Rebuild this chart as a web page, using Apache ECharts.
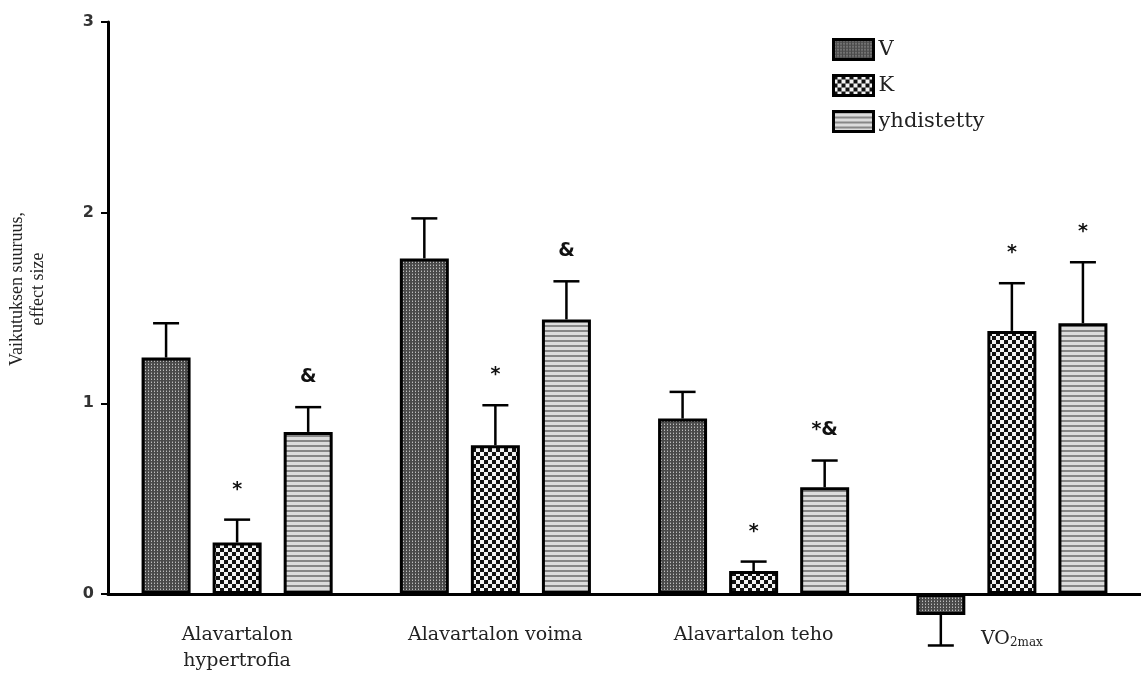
<!DOCTYPE html>
<html>
<head>
<meta charset="utf-8">
<script src="https://cdn.jsdelivr.net/npm/echarts@6/dist/echarts.min.js"></script>
<style>
  html, body { margin: 0; padding: 0; background: #fff; }
  #chart { width: 1141px; height: 674px; }
</style>
</head>
<body>
<div id="chart"></div>
<script>
// Effect sizes per outcome and training group
const categories = ['Alavartalon\nhypertrofia', 'Alavartalon voima', 'Alavartalon teho', 'VO2max'];
const seriesNames = ['V', 'K', 'yhdistetty'];

const valuesV = [1.24, 1.76, 0.92, -0.11];
const valuesK = [0.27, 0.78, 0.12, 1.38];
const valuesY = [0.85, 1.44, 0.56, 1.42];

// One-sided error bars (length, drawn away from zero)
const errorsV = [0.18, 0.21, 0.14, 0.16];
const errorsK = [0.12, 0.21, 0.05, 0.25];
const errorsY = [0.13, 0.20, 0.14, 0.32];

// Significance markers above the error bars
const notesV = ['', '', '', ''];
const notesK = ['*', '*', '*', '*'];
const notesY = ['&', '&', '*&', '*'];

const yTicks = [0, 1, 2, 3];

const allValues = [valuesV, valuesK, valuesY];
const allErrors = [errorsV, errorsK, errorsY];
const allNotes = [notesV, notesK, notesY];

const BAR_W = 49;
const BAR_GAP = 0.45;

// Fill patterns for the bars
function makeTile(w, h, draw) {
  const c = document.createElement('canvas');
  c.width = w; c.height = h;
  draw(c.getContext('2d'));
  return { image: c, repeat: 'repeat' };
}
const patternV = makeTile(3, 3, g => {
  g.fillStyle = '#4a4a4a'; g.fillRect(0, 0, 3, 3);
  g.fillStyle = '#bdbdbd'; g.fillRect(1, 1, 1, 1);
  g.fillStyle = '#7a7a7a'; g.fillRect(1, 0, 1, 1);
});
const patternK = makeTile(8, 8, g => {
  g.fillStyle = '#f2f2f2'; g.fillRect(0, 0, 8, 8);
  g.fillStyle = '#111'; g.fillRect(0, 0, 4, 4); g.fillRect(4, 4, 4, 4);
});
const patternY = makeTile(2, 5, g => {
  g.fillStyle = '#dcdcdc'; g.fillRect(0, 0, 2, 5);
  g.fillStyle = '#878787'; g.fillRect(0, 0, 2, 2);
});
const patterns = [patternV, patternK, patternY];

const errorData = [];
allValues.forEach((vals, s) => {
  vals.forEach((v, i) => {
    const sign = v < 0 ? -1 : 1;
    errorData.push([i, s, v, v + sign * allErrors[s][i]]);
  });
});

const serif = 'DejaVu Serif';

const chart = echarts.init(document.getElementById('chart'), null, { renderer: 'canvas' });

const barSeries = seriesNames.map((name, s) => ({
  name: name,
  type: 'bar',
  data: allValues[s],
  barWidth: BAR_W,
  barGap: (BAR_GAP * 100) + '%',
  clip: false,
  itemStyle: { color: patterns[s], borderColor: '#000', borderWidth: 3 }
}));

chart.setOption({
  animation: false,
  backgroundColor: '#fff',
  grid: { left: 108, right: -7, top: 22, bottom: 78, containLabel: false },
  legend: {
    data: seriesNames,
    orient: 'vertical',
    left: 827,
    top: 33,
    itemWidth: 40,
    itemHeight: 20,
    itemGap: 13,
    icon: 'rect',
    itemStyle: { borderColor: '#000', borderWidth: 3 },
    textStyle: { fontFamily: serif, fontSize: 21, lineHeight: 20, color: '#222' }
  },
  xAxis: {
    type: 'category',
    data: categories,
    axisLine: { lineStyle: { color: '#000', width: 3 } },
    axisTick: { show: false },
    axisLabel: {
      interval: 0,
      margin: 28,
      fontFamily: serif,
      fontSize: 19,
      lineHeight: 26,
      color: '#222',
      formatter: v => v === 'VO2max' ? '{vo|VO}{sub|2max}' : v,
      rich: {
        vo: { fontFamily: serif, fontSize: 19, color: '#222', padding: [9, 0, 0, 0] },
        sub: { fontFamily: serif, fontSize: 12, color: '#222', padding: [16, 0, 0, 0] }
      }
    }
  },
  yAxis: {
    type: 'value',
    min: 0,
    max: 3,
    interval: 1,
    splitLine: { show: false },
    axisLine: { show: true, lineStyle: { color: '#000', width: 3 } },
    axisTick: { show: true, length: 7, lineStyle: { color: '#000', width: 2 } },
    axisLabel: {
      margin: 14,
      fontFamily: 'DejaVu Sans',
      fontWeight: 'bold',
      fontSize: 16,
      color: '#333',
      formatter: v => yTicks.includes(v) ? String(v) : ''
    }
  },
  graphic: [{
    type: 'text',
    left: 7,
    top: 212,
    rotation: Math.PI / 2,
    style: {
      text: 'Vaikutuksen suuruus,\neffect size',
      fontFamily: 'Liberation Serif',
      fontSize: 18,
      lineHeight: 21,
      fill: '#222',
      textAlign: 'center'
    }
  }],
  series: barSeries.concat([{
    type: 'custom',
    name: 'errors',
    clip: false,
    z: 5,
    encode: { x: 0, y: 2 },
    data: errorData,
    renderItem: function (params, api) {
      const cat = api.value(0);
      const s = api.value(1);
      const base = api.coord([cat, api.value(2)]);
      const end = api.coord([cat, api.value(3)]);
      const x = base[0] + (s - 1) * BAR_W * (1 + BAR_GAP);
      const lineStyle = { stroke: '#000', lineWidth: 2.5 };
      const children = [
        { type: 'line', shape: { x1: x, y1: base[1], x2: x, y2: end[1] }, style: lineStyle },
        { type: 'line', shape: { x1: x - 13, y1: end[1], x2: x + 13, y2: end[1] }, style: lineStyle }
      ];
      const note = allNotes[s][cat];
      if (note) {
        children.push({
          type: 'text',
          style: {
            text: note,
            x: x,
            y: end[1] - 30,
            textAlign: 'center',
            textVerticalAlign: 'middle',
            fontFamily: 'DejaVu Sans',
            fontWeight: 'bold',
            fontSize: 19,
            fill: '#111'
          }
        });
      }
      return { type: 'group', children: children };
    }
  }])
});
</script>
</body>
</html>
